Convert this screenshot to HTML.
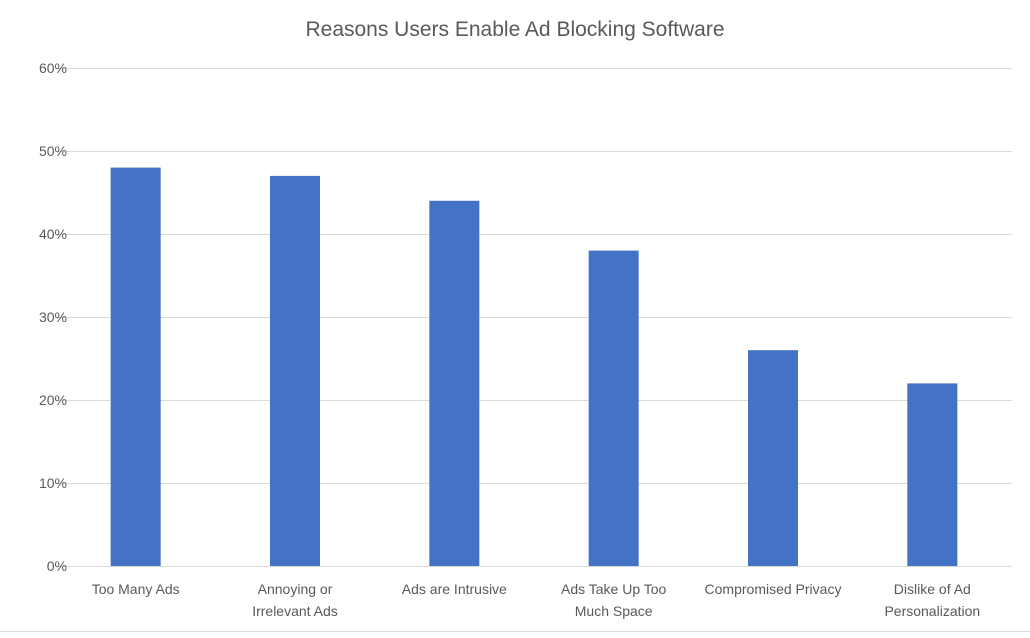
<!DOCTYPE html>
<html><head><meta charset="utf-8"><style>
html,body{margin:0;padding:0;background:#fff;}
svg text{font-family:"Liberation Sans",sans-serif;}
</style></head><body>
<svg id="chart" width="1030" height="633">
<text x="515" y="36" text-anchor="middle" font-size="21" fill="#595959">Reasons Users Enable Ad Blocking Software</text>
<g id="grid"></g><g id="bars"></g><g id="labels"></g>
<line x1="0" y1="631.5" x2="1030" y2="631.5" stroke="#d9d9d9"/>
</svg>
<script>
const categories=[["Too Many Ads"],["Annoying or","Irrelevant Ads"],["Ads are Intrusive"],["Ads Take Up Too","Much Space"],["Compromised Privacy"],["Dislike of Ad","Personalization"]];
const values=[48,47,44,38,26,22];
const ticks=[0,10,20,30,40,50,60];
const L=56,R=1012,T=68,B=566,max=60;
const y=v=>B-(v/max)*(B-T);
const bw=(R-L)/categories.length;
const x=i=>L+bw*i+bw/2;
const ns="http://www.w3.org/2000/svg";
const g=document.getElementById('grid'),bg=document.getElementById('bars'),lg=document.getElementById('labels');
ticks.forEach(t=>{
 const l=document.createElementNS(ns,'line');
 l.setAttribute('x1',L);l.setAttribute('x2',R);l.setAttribute('y1',Math.round(y(t))+0.5);l.setAttribute('y2',Math.round(y(t))+0.5);
 l.setAttribute('stroke','#d9d9d9');
 
 
 g.appendChild(l);
 const tx=document.createElementNS(ns,'text');
 tx.setAttribute('x',67);tx.setAttribute('y',y(t)+5);tx.setAttribute('text-anchor','end');tx.setAttribute('font-size','14');tx.setAttribute('fill','#595959');
 tx.textContent=t+'%';
 
 
 g.appendChild(tx);
});
values.forEach((v,i)=>{
 const r=document.createElementNS(ns,'rect');
 r.setAttribute('x',x(i)-25);r.setAttribute('width',50);r.setAttribute('y',y(v));r.setAttribute('height',B-y(v));r.setAttribute('fill','#4472c4');
 
 
 bg.appendChild(r);
 categories[i].forEach((s,j)=>{
  const tx=document.createElementNS(ns,'text');
  tx.setAttribute('x',x(i));tx.setAttribute('y',594+j*22);tx.setAttribute('text-anchor','middle');tx.setAttribute('font-size','14');tx.setAttribute('fill','#595959');
  tx.textContent=s;
  
  
  lg.appendChild(tx);
 });
});
</script>
</body></html>
